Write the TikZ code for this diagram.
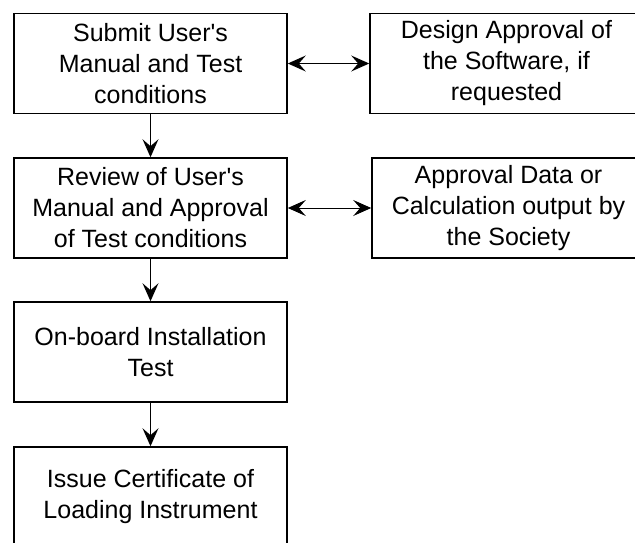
\documentclass[tikz,border=0pt]{standalone}
\usepackage{fontspec}
\setmainfont{Liberation Sans}
\usetikzlibrary{arrows.meta}
\tikzset{
  flowbox/.style={draw, line width=1.6pt, minimum width=273pt, minimum height=100pt,
    inner sep=0pt, align=center, font=\fontsize{25pt}{31pt}\selectfont},
  flowarrow/.style={line width=1pt, -{Stealth[length=18pt,width=16pt,inset=7pt]}},
  duoarrow/.style={line width=1pt, {Stealth[length=18pt,width=16pt,inset=7pt]}-{Stealth[length=18pt,width=16pt,inset=7pt]}}
}
\begin{document}
\begin{tikzpicture}[x=1pt,y=-1pt]
\useasboundingbox (0,0) rectangle (635,542);
\clip (0,0) rectangle (635,542);
\node[flowbox] (submit) at (150.5,63.5) {Submit User\textquotesingle s\\Manual and Test\\conditions};
\node[flowbox] (design) at (506.5,63.5) {Design Approval of\\the Software, if\\requested};
\node[flowbox] (review) at (150.5,208) {Review of User\textquotesingle s\\Manual and Approval\\of Test conditions};
\node[flowbox] (data) at (508.5,208) {Approval Data or\\Calculation output by\\the Society};
\node[flowbox] (onboard) at (150.5,352) {On-board Installation\\Test};
\node[flowbox] (issue) at (150.5,497) {Issue Certificate of\\Loading Instrument};
\draw[duoarrow] (submit.east) -- (design.west);
\draw[duoarrow] (review.east) -- (data.west);
\draw[flowarrow] (submit.south) -- (review.north);
\draw[flowarrow] (review.south) -- (onboard.north);
\draw[flowarrow] (onboard.south) -- (issue.north);
\end{tikzpicture}
\end{document}
